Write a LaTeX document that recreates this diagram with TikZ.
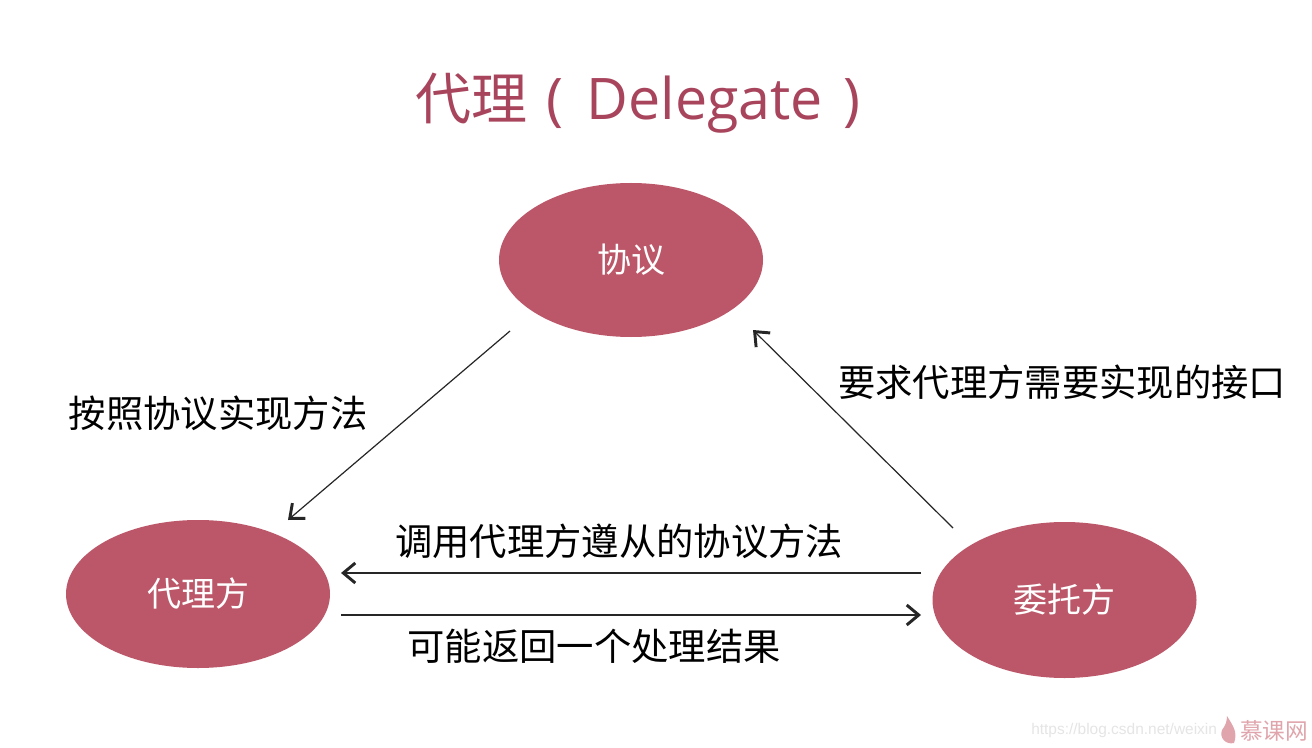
\documentclass[tikz,border=0pt]{standalone}
\usepackage{fontspec}
\setmainfont{Open Sans}
\newfontfamily\cjk{Noto Sans CJK SC}
\newfontfamily\wm{Liberation Sans}
\usetikzlibrary{arrows.meta,shapes.geometric}
\definecolor{ellcol}{HTML}{BC5769}
\definecolor{ttlcol}{HTML}{A8445C}
\definecolor{wmcol}{HTML}{E0A5AC}
\tikzset{
  blob/.style={ellipse,fill=ellcol,draw=none,inner sep=0pt,text=white,font=\cjk\fontsize{25.5}{26}\selectfont},
  lab/.style={text=black,font=\cjk\fontsize{28}{29}\selectfont,inner sep=0pt},
  conn/.style={draw=black!85,line width=0.9pt,-{Straight Barb[length=9pt,width=15pt,line width=2.2pt]}}
}
\begin{document}
\begin{tikzpicture}[x=0.75pt,y=-0.75pt]
\useasboundingbox (0,0) rectangle (1312,748);
\fill[white] (0,0) rectangle (1312,748);
\node[text=ttlcol,inner sep=0pt,anchor=center] (title) at (638,103) {\fontsize{43}{45}\selectfont{\cjk\fontsize{42}{45}\selectfont 代理}\hspace{3.75pt} (\hspace{6pt} Delegate\hspace{4.5pt} )};
\node[blob,minimum width=198pt,minimum height=115.5pt] (xy) at (631,260) {\raisebox{-1.5pt}{协议}};
\node[blob,minimum width=198pt,minimum height=111pt] (dl) at (198,594) {\raisebox{-2pt}{代理方}};
\node[blob,minimum width=198pt,minimum height=117pt] (wt) at (1064.5,600) {\raisebox{-1.5pt}{委托方}};
\coordinate (a1) at (510,331);
\coordinate (a2) at (288,520);
\coordinate (b1) at (953,528);
\coordinate (b2) at (753,330);
\coordinate (c1) at (921,573);
\coordinate (c2) at (341,573);
\coordinate (d1) at (341,615);
\coordinate (d2) at (921,615);
\draw[conn] (a1) -- (a2);
\draw[conn] (b1) -- (b2);
\draw[conn] (c1) -- (c2);
\draw[conn] (d1) -- (d2);
\node[lab] (t1) at (218,413) {按照协议实现方法};
\node[lab] (t2) at (1062,382) {要求代理方需要实现的接口};
\node[lab] (t3) at (619,541) {调用代理方遵从的协议方法};
\node[lab] (t4) at (594,646) {可能返回一个处理结果};
\node[text=black!10,inner sep=0pt,anchor=west,font=\wm\fontsize{11.6}{12}\selectfont] (wm1) at (1031,730) {https://blog.csdn.net/weixin};
\node[text=wmcol,inner sep=0pt,anchor=west,font=\cjk\fontsize{17}{18}\selectfont] (wm2) at (1240,731) {慕课网};
\fill[wmcol] (1227,716) .. controls (1233,726) and (1238,732) .. (1234,743) .. controls (1226,745) and (1219,738) .. (1222,730) .. controls (1225,726) and (1227,722) .. (1227,716);
\end{tikzpicture}
\end{document}
